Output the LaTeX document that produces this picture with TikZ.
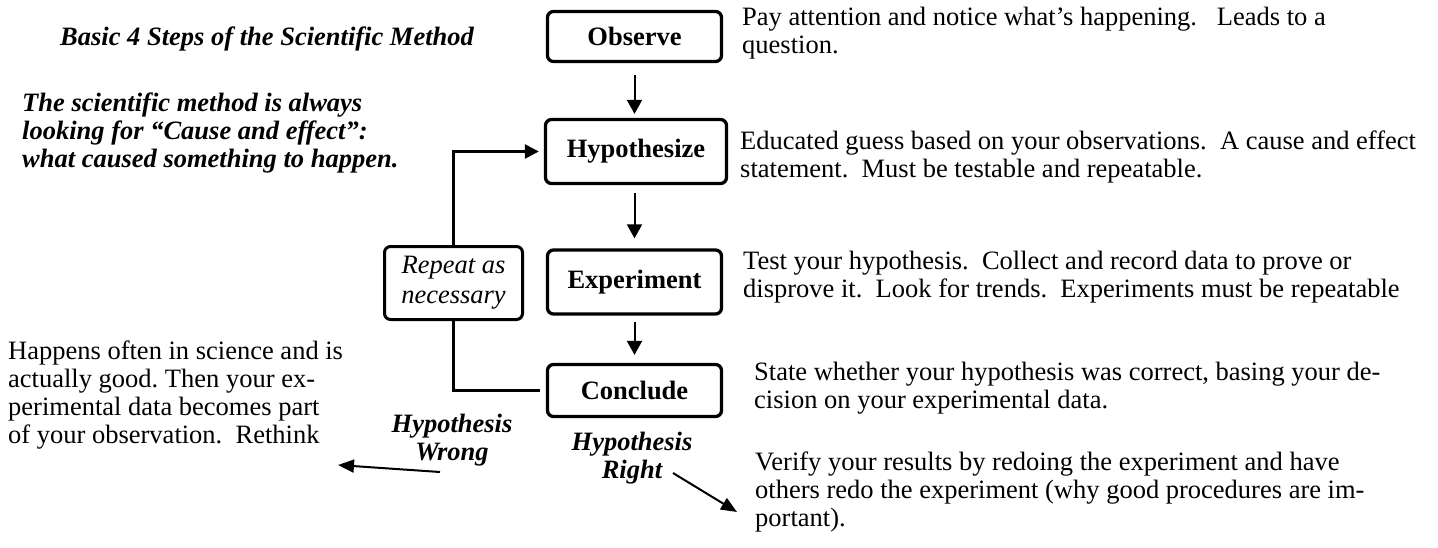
\documentclass[tikz,border=0pt]{standalone}
\usepackage{fontspec}
\setmainfont{Liberation Serif}
\usetikzlibrary{arrows.meta}
\begin{document}
\begin{tikzpicture}[x=1pt,y=-1pt,
  txt/.style={font=\fontsize{26.5}{28}\selectfont, inner sep=0pt, align=left, anchor=north west},
  bitxt/.style={font=\fontsize{26.5}{28}\selectfont\bfseries\itshape, inner sep=0pt},
  stepbox/.style={draw, line width=3.3pt, rounded corners=6pt, font=\fontsize{26.5}{28}\selectfont\bfseries, inner sep=0pt},
  arr/.style={line width=2pt, -{Triangle[length=14pt,width=15pt]}},
  sidearr/.style={line width=2pt, -{Triangle[length=16pt,width=13pt]}},
  loopline/.style={line width=2.5pt}]
\useasboundingbox[fill=white] (0,0) rectangle (1438,547);
\frenchspacing
% step boxes
\node[stepbox, minimum width=174pt, minimum height=50pt] (obs) at (634.5,36.5) {Observe};
\node[stepbox, minimum width=181pt, minimum height=64pt] (hyp) at (636,151.5) {Hypothesize};
\node[stepbox, minimum width=174pt, minimum height=64pt] (exp) at (634.5,282) {Experiment};
\node[stepbox, minimum width=174pt, minimum height=52pt] (con) at (634.5,390.5) {Conclude};
\node[stepbox, line width=3pt, minimum width=138pt, minimum height=73pt, font=\fontsize{26.5}{30}\selectfont\itshape, align=center] (rep) at (453.5,283) {Repeat as\\necessary};
% vertical arrows
\draw[arr, shorten <=12pt, shorten >=4pt] (obs.south) -- (obs.south |- hyp.north);
\draw[arr, shorten <=8pt, shorten >=10pt] (hyp.south -| obs.south) -- (exp.north);
\draw[arr, shorten <=6pt, shorten >=8pt] (exp.south) -- (con.north);
% loop
\draw[loopline, shorten <=6pt] (con.west) -| (rep.south);
\draw[loopline, -{Triangle[length=14pt,width=14pt]}, shorten >=5pt] (rep.north) |- (hyp.west);
% left texts
\node[bitxt, anchor=base west] (title) at (60,45) {Basic 4 Steps of the Scientific Method};
\node[bitxt, align=left, anchor=north west] (cause) at (22,93) {The scientific method is always\\looking for “Cause and effect”:\\what caused something to happen.};
% right texts
\node[txt] (tobs) at (742,7) {Pay attention and notice what’s happening.\ \ \ Leads to a\\question.};
\node[txt] (thyp) at (740,131) {Educated guess based on your observations.\ \ A cause and effect\\statement.\ \ Must be testable and repeatable.};
\node[txt] (texp) at (743,251) {Test your hypothesis.\ \ Collect and record data to prove or\\disprove it.\ \ Look for trends.\ \ Experiments must be repeatable};
\node[txt] (tcon) at (754,362) {State whether your hypothesis was correct, basing your de-\\cision on your experimental data.};
\node[txt] (tver) at (755,452) {Verify your results by redoing the experiment and have\\others redo the experiment (why good procedures are im-\\portant).};
\node[txt] (twrong) at (8,341) {Happens often in science and is\\actually good. Then your ex-\\perimental data becomes part\\of your observation.\ \ Rethink};
% outcome labels
\node[bitxt, align=center, anchor=north] (lwrong) at (452,414) {Hypothesis\\Wrong};
\node[bitxt, align=center, anchor=north] (lright) at (632,432) {Hypothesis\\Right};
% outcome arrows
\coordinate (wt) at (440,472);
\coordinate (wh) at (338,465);
\coordinate (rt) at (673,473);
\coordinate (rh) at (737,512);
\draw[sidearr] (wt) -- (wh);
\draw[sidearr] (rt) -- (rh);
\end{tikzpicture}
\end{document}
